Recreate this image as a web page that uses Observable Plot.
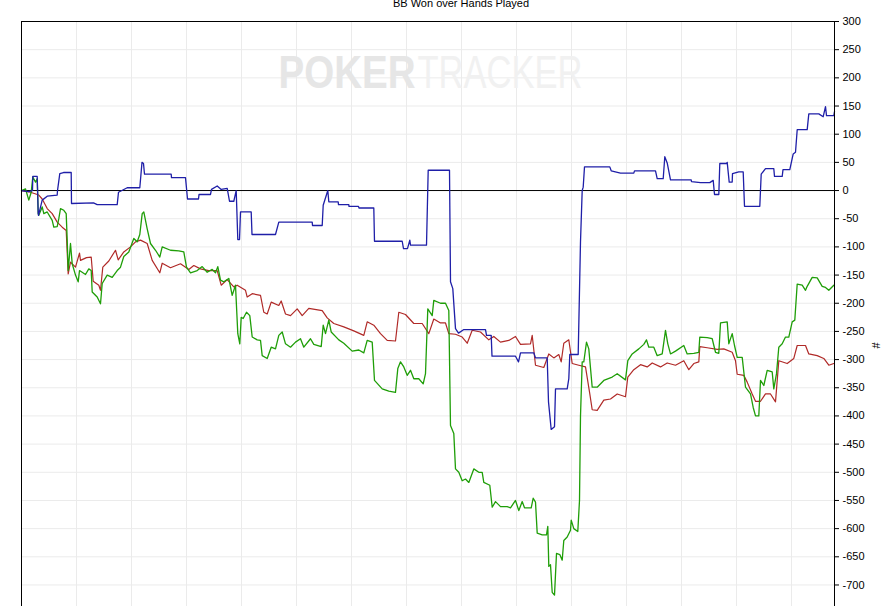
<!DOCTYPE html>
<html>
<head>
<meta charset="utf-8">
<script src="https://cdn.jsdelivr.net/npm/d3@7"></script>
<script src="https://cdn.jsdelivr.net/npm/@observablehq/plot@0.6"></script>
<style>
  body { margin: 0; background: white; overflow: hidden; }
</style>
</head>
<body>
<div id="chart"></div>
<script>
// [hands played, BB won]
const blueLine = [
  [0,0],[140,-2],[220,0],[226,25],[314,25],[334,-40],[340,-44],[414,-17],[514,-10],[714,-8],
  [720,0],[766,30],[840,32],[994,32],[1000,-23],[1440,-22],[1514,-25],[1914,-25],[1940,-3],[2114,5],
  [2366,5],[2410,50],[2440,48],[2460,29],[2994,29],[3000,23],[3280,23],[3320,-15],[3540,-15],[3550,-7],
  [3780,-7],[3800,2],[3914,8],[3994,2],[4114,4],[4160,-19],[4246,-19],[4294,0],[4326,-87],[4360,-87],
  [4380,-38],[4594,-38],[4610,-78],[5080,-78],[5146,-56],[5814,-56],[5820,-62],[6014,-62],[6034,-26],[6126,0],
  [6146,-20],[6334,-20],[6340,-25],[6546,-25],[6550,-28],[6740,-28],[6750,-31],[7046,-31],[7060,-90],[7614,-90],
  [7640,-103],[7720,-103],[7766,-88],[7780,-97],[8100,-97],[8134,36],[8560,36],[8580,-162],[8626,-174],[8680,-245],
  [8740,-253],[8840,-247],[9280,-247],[9300,-257],[9394,-257],[9410,-294],[9880,-294],[9940,-304],[9980,-288],[10246,-288],
  [10280,-297],[10514,-297],[10540,-375],[10594,-424],[10660,-419],[10680,-352],[10914,-352],[10946,-334],[10966,-291],[11134,-291],
  [11180,-91],[11214,0],[11234,6],[11260,42],[11766,42],[11794,35],[11980,31],[12246,31],[12260,35],[12680,35],
  [12714,21],[12834,21],[12866,60],[12914,49],[12980,19],[13394,19],[13400,16],[13580,14],[13766,14],[13834,18],
  [13860,-7],[13946,-7],[13966,48],[14100,48],[14114,50],[14154,15],[14214,15],[14220,30],[14346,33],[14434,33],
  [14460,-28],[14766,-28],[14794,29],[14880,39],[15046,39],[15060,25],[15214,25],[15230,37],[15366,37],[15434,65],
  [15480,68],[15514,108],[15714,108],[15746,136],[15946,136],[16034,131],[16080,149],[16100,133],[16246,133],[16260,140]
];

const redLine = [
  [0,0],[180,-3],[346,-8],[414,-15],[514,-32],[614,-41],[714,-56],[814,-65],[894,-71],[934,-148],
  [980,-127],[1080,-136],[1160,-111],[1180,-124],[1300,-119],[1394,-118],[1434,-161],[1546,-168],[1580,-177],[1626,-136],
  [1746,-125],[1880,-106],[1934,-123],[2046,-109],[2180,-100],[2280,-91],[2380,-88],[2514,-94],[2614,-124],[2766,-146],
  [2814,-129],[2980,-137],[3180,-130],[3346,-140],[3446,-133],[3580,-139],[3746,-142],[3914,-142],[3994,-168],[4114,-158],
  [4246,-171],[4314,-168],[4480,-177],[4514,-189],[4614,-183],[4780,-186],[4846,-216],[4914,-219],[4994,-198],[5146,-204],
  [5194,-196],[5280,-219],[5380,-222],[5514,-210],[5614,-222],[5746,-209],[6014,-213],[6114,-226],[6246,-236],[6446,-242],
  [6646,-249],[6846,-257],[6914,-233],[7046,-239],[7180,-254],[7314,-266],[7480,-267],[7546,-216],[7680,-220],[7846,-236],
  [8014,-236],[8146,-254],[8246,-228],[8380,-235],[8480,-235],[8546,-254],[8680,-255],[8814,-260],[8914,-271],[9014,-248],
  [9180,-251],[9346,-265],[9446,-259],[9580,-269],[9746,-266],[9880,-259],[9980,-273],[10180,-272],[10214,-257],[10280,-310],
  [10446,-314],[10546,-290],[10646,-297],[10746,-291],[10794,-304],[10846,-271],[10946,-265],[11014,-307],[11146,-310],[11280,-313],
  [11366,-361],[11414,-389],[11514,-390],[11646,-372],[11780,-370],[11914,-361],[12080,-366],[12126,-331],[12246,-318],[12380,-309],
  [12514,-313],[12614,-306],[12780,-313],[12914,-306],[13080,-310],[13246,-302],[13346,-318],[13446,-307],[13546,-304],[13566,-277],
  [13714,-279],[13914,-282],[14046,-281],[14214,-287],[14280,-302],[14314,-326],[14446,-328],[14514,-340],[14614,-361],[14680,-374],
  [14780,-374],[14880,-361],[14980,-361],[15080,-375],[15146,-302],[15314,-307],[15446,-298],[15514,-275],[15680,-275],[15746,-290],
  [15914,-293],[16046,-298],[16146,-310],[16246,-307]
];

const greenLine = [
  [0,0],[80,3],[146,-17],[194,-3],[226,24],[280,15],[314,21],[334,-41],[346,-44],[414,-29],
  [446,-41],[514,-38],[614,-53],[646,-65],[714,-64],[746,-50],[780,-32],[846,-35],[894,-41],[914,-88],
  [934,-142],[980,-94],[1014,-130],[1080,-150],[1134,-162],[1160,-142],[1280,-149],[1346,-139],[1394,-142],[1414,-180],
  [1514,-189],[1580,-201],[1614,-165],[1714,-150],[1814,-154],[1914,-142],[1980,-136],[2046,-117],[2146,-109],[2246,-85],
  [2314,-91],[2366,-78],[2414,-41],[2446,-38],[2514,-68],[2580,-94],[2680,-106],[2766,-118],[2814,-100],[2980,-106],
  [3146,-107],[3246,-109],[3300,-136],[3380,-146],[3514,-142],[3614,-135],[3714,-145],[3814,-140],[3880,-146],[3926,-135],
  [3980,-159],[4046,-162],[4146,-156],[4214,-186],[4280,-168],[4326,-254],[4366,-272],[4394,-225],[4434,-227],[4500,-216],
  [4566,-222],[4614,-260],[4714,-265],[4780,-266],[4814,-293],[4914,-298],[4994,-278],[5080,-281],[5146,-257],[5214,-251],
  [5280,-272],[5380,-278],[5480,-269],[5580,-263],[5646,-278],[5780,-263],[5846,-273],[5994,-277],[6034,-239],[6080,-254],
  [6146,-230],[6194,-251],[6346,-265],[6446,-271],[6614,-285],[6746,-283],[6846,-288],[6914,-266],[7014,-269],[7060,-337],
  [7214,-352],[7346,-356],[7480,-358],[7526,-316],[7580,-304],[7646,-313],[7714,-328],[7780,-319],[7846,-334],[7946,-334],
  [8034,-343],[8080,-325],[8126,-210],[8214,-222],[8246,-195],[8380,-200],[8480,-200],[8546,-213],[8580,-417],[8646,-431],
  [8680,-494],[8746,-500],[8814,-515],[8880,-512],[8946,-518],[9046,-494],[9146,-500],[9214,-500],[9246,-518],[9366,-523],
  [9414,-562],[9480,-552],[9580,-561],[9714,-561],[9780,-563],[9880,-550],[9946,-568],[10014,-552],[10060,-563],[10194,-563],
  [10234,-546],[10280,-553],[10314,-608],[10414,-611],[10500,-611],[10526,-596],[10546,-667],[10580,-664],[10614,-713],[10660,-718],
  [10700,-644],[10766,-646],[10814,-656],[10846,-621],[10914,-615],[10980,-603],[10994,-585],[11046,-600],[11126,-605],[11160,-550],
  [11180,-400],[11214,-304],[11246,-304],[11300,-269],[11346,-281],[11414,-349],[11514,-349],[11646,-337],[11814,-331],[11914,-325],
  [12080,-336],[12126,-302],[12214,-290],[12346,-281],[12446,-273],[12500,-265],[12546,-278],[12646,-278],[12714,-293],[12814,-290],
  [12880,-248],[12926,-272],[12980,-290],[13080,-285],[13246,-275],[13314,-290],[13446,-289],[13546,-287],[13566,-260],[13714,-261],
  [13814,-263],[13880,-287],[13946,-289],[13980,-235],[14114,-233],[14146,-272],[14214,-254],[14260,-275],[14314,-296],[14414,-296],
  [14480,-349],[14580,-361],[14634,-385],[14680,-400],[14746,-400],[14780,-337],[14846,-346],[14914,-319],[15014,-322],[15046,-352],
  [15100,-325],[15146,-278],[15214,-272],[15280,-260],[15346,-260],[15414,-233],[15466,-230],[15514,-166],[15614,-168],[15680,-177],
  [15714,-170],[15814,-154],[15914,-155],[16014,-170],[16080,-172],[16146,-177],[16246,-168]
];

const handsDomain = [0, 16260];
const bbDomain = [-850, 300];
const handTicks = d3.range(0, 16260, 1100);
const bbTicks = d3.range(-850, 301, 50);
const bbLabelTicks = d3.range(-700, 301, 50);
const chartTitle = "BB Won over Hands Played";
const watermark = ["POKER", "TRACKER"];

const chart = Plot.plot({
  width: 887,
  height: 689,
  marginTop: 21,
  marginLeft: 21,
  marginRight: 53,
  marginBottom: 20,
  style: {fontFamily: "'Liberation Sans', Arial, sans-serif", fontSize: "11px", background: "white", color: "black"},
  x: {domain: handsDomain, axis: null},
  y: {domain: bbDomain, axis: null},
  marks: [
    Plot.gridX(handTicks, {stroke: "#ebebeb", strokeOpacity: 1}),
    Plot.gridY(bbTicks, {stroke: "#ebebeb", strokeOpacity: 1}),
    // watermark
    Plot.text([watermark[0]], {frameAnchor: "top-left", lineAnchor: "middle", dx: 394, dy: 52, textAnchor: "end", fontSize: 46, fontWeight: "bold", fill: "#e6e6e6"}),
    Plot.text([watermark[1]], {frameAnchor: "top-left", lineAnchor: "middle", dx: 396, dy: 52, textAnchor: "start", fontSize: 46, fill: "#f1f1f1"}),
    Plot.ruleY([0], {stroke: "black", strokeWidth: 1}),
    Plot.line(redLine, {stroke: "#b02a28", strokeWidth: 1.2}),
    Plot.line(greenLine, {stroke: "#1f9e08", strokeWidth: 1.3}),
    Plot.line(blueLine, {stroke: "#1f1fa8", strokeWidth: 1.3}),
    Plot.axisY(bbLabelTicks, {
      anchor: "right",
      tickSize: 4,
      tickPadding: 4,
      tickFormat: d => String(d),
      label: null,
      fontSize: 11
    }),
    Plot.axisY({
      anchor: "right",
      ticks: [],
      label: "#",
      labelAnchor: "center",
      labelArrow: "none",
      labelOffset: 45,
      fontSize: 11
    }),
    Plot.frame({stroke: "black", strokeWidth: 1}),
    Plot.text([chartTitle], {frameAnchor: "top", lineAnchor: "middle", dx: 33, dy: -18, fontSize: 11})
  ]
});

// squeeze the watermark words to the reference width
const wmWidths = {POKER: 137, TRACKER: 165};
d3.select(chart).selectAll("text").each(function() {
  const w = wmWidths[this.textContent];
  if (w) d3.select(this).attr("textLength", w).attr("lengthAdjust", "spacingAndGlyphs");
});

document.querySelector("#chart").append(chart);
</script>
</body>
</html>
